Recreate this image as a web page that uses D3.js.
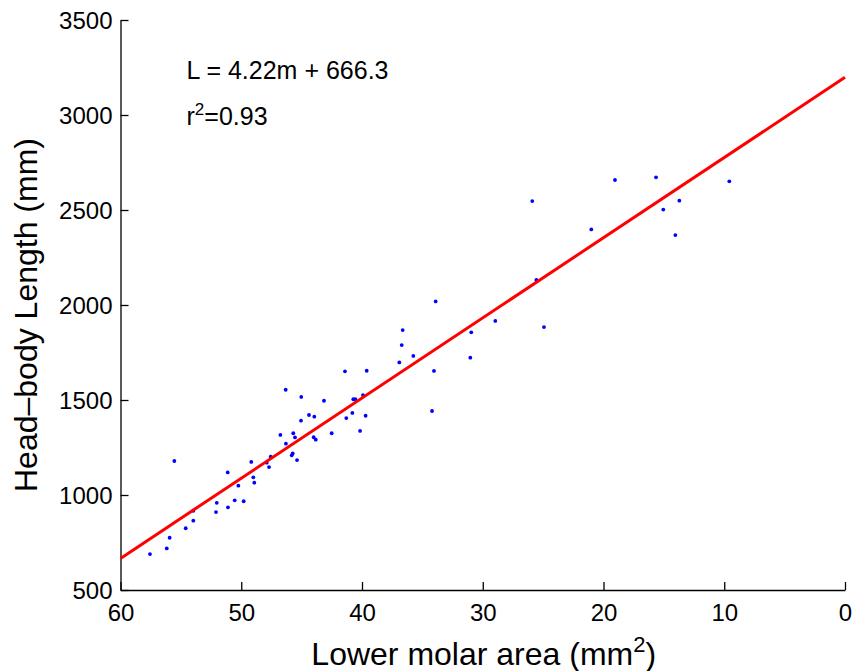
<!DOCTYPE html>
<html>
<head>
<meta charset="utf-8">
<script src="https://cdn.jsdelivr.net/npm/d3@7"></script>
<style>
  body { margin: 0; background: #fff; }
  text { font-family: "Liberation Sans", Arial, Helvetica, sans-serif; }
</style>
</head>
<body>
<div id="chart-area"></div>
<script>
// lower molar area (mm^2)
const molarArea = [
  57.56, 56.17, 55.93, 55.54, 54.6, 53.97, 53.97, 52.09, 52.03, 51.1,
  51.12, 50.54, 50.24, 49.8, 49.17, 49.0, 48.92, 47.89, 47.7, 47.56,
  46.76, 46.32, 46.3, 45.82, 45.74, 45.69, 45.55, 45.38, 45.03, 45.05,
  44.39, 43.95, 44.0, 43.83, 43.15, 42.51, 41.41, 41.3, 40.8, 40.72,
  40.55, 40.16, 39.92, 39.7, 39.61, 36.91, 36.71, 36.63, 35.75, 34.04,
  33.9, 34.2, 31.03, 30.95, 28.96, 25.9, 25.56, 24.93, 21.01, 19.05,
  15.65, 15.05, 13.72, 14.05, 9.58
];
// head-body length (mm)
const bodyLength = [
  689, 719, 775, 1179, 825, 865, 917, 910, 959, 935,
  1119, 972, 1049, 967, 1174, 1093, 1065, 1170, 1147, 1202,
  1316, 1554, 1270, 1209, 1219, 1325, 1303, 1184, 1516, 1391,
  1421, 1412, 1304, 1291, 1496, 1325, 1651, 1405, 1432, 1504,
  1504, 1337, 1526, 1417, 1654, 1698, 1789, 1868, 1732, 1653,
  2019, 1442, 1723, 1856, 1916, 2547, 2132, 1884, 2398, 2658,
  2672, 2502, 2549, 2368, 2651
];
// regression line end points [area, length]
const fitLine = [[60, 666.3], [0, 3198.3]];

const xTicks = [60, 50, 40, 30, 20, 10, 0];
const yTicks = [500, 1000, 1500, 2000, 2500, 3000, 3500];

const svgWidth = 856;
const svgHeight = 671;
const margin = { top: 20, right: 11, bottom: 81, left: 120.5 };
const width = svgWidth - margin.left - margin.right;
const height = svgHeight - margin.top - margin.bottom;

const svg = d3.select("#chart-area")
    .append("svg")
    .attr("width", svgWidth)
    .attr("height", svgHeight)
    .append("g")
    .attr("transform", `translate(${margin.left}, ${margin.top})`);

const xScale = d3.scaleLinear().domain([60, 0]).range([0, width]);
const yScale = d3.scaleLinear().domain([500, 3500]).range([height, 0]);

// axes, ticks pointing inward (matlab style)
const xAxis = svg.append("g")
    .attr("transform", `translate(0, ${height})`)
    .call(d3.axisBottom(xScale).tickValues(xTicks).tickSize(-8).tickSizeOuter(0).tickFormat(d3.format("d")));
const yAxis = svg.append("g")
    .call(d3.axisLeft(yScale).tickValues(yTicks).tickSize(-8).tickSizeOuter(0).tickPadding(8).tickFormat(d3.format("d")));

[xAxis, yAxis].forEach(ax => {
    ax.select(".domain").attr("stroke", "#000").attr("stroke-width", 1.3);
    ax.selectAll(".tick line").attr("stroke", "#000").attr("stroke-width", 1.3);
    ax.selectAll("text")
        .attr("fill", "#000")
        .style("font-size", "24px")
        .style("font-family", "'Liberation Sans', Arial, sans-serif");
});
xAxis.selectAll("text").attr("y", 31).attr("dy", 0);
yAxis.selectAll("text").attr("dy", "0.36em");

// points
svg.selectAll(".pt")
    .data(molarArea)
    .enter()
    .append("circle")
    .attr("class", "pt")
    .attr("cx", d => xScale(d))
    .attr("cy", (d, i) => yScale(bodyLength[i]))
    .attr("r", 1.9)
    .attr("fill", "#0000ff");

// regression line
svg.append("path")
    .datum(fitLine)
    .attr("fill", "none")
    .attr("stroke", "#ff0000")
    .attr("stroke-width", 3)
    .attr("d", d3.line().x(d => xScale(d[0])).y(d => yScale(d[1])));

// annotation
svg.append("text")
    .attr("x", 66)
    .attr("y", 59)
    .style("font-size", "25px")
    .text("L = 4.22m + 666.3");

const r2 = svg.append("text")
    .attr("x", 66)
    .attr("y", 105)
    .style("font-size", "25px");
r2.append("tspan").text("r");
r2.append("tspan").attr("dy", -10).style("font-size", "17px").text("2");
r2.append("tspan").attr("dy", 10).text("=0.93");

// axis titles
const xt = svg.append("text")
    .attr("x", width / 2 + 1)
    .attr("y", height + 75)
    .attr("text-anchor", "middle")
    .style("font-size", "32px")
    .text("Lower molar area (mm");
xt.append("tspan").attr("dy", -13).style("font-size", "22px").text("2");
xt.append("tspan").attr("dy", 13).text(")");

svg.append("text")
    .attr("transform", `translate(${-margin.left + 37}, ${height / 2 + 10}) rotate(-90)`)
    .attr("text-anchor", "middle")
    .style("font-size", "32px")
    .text("Head\u2013body Length (mm)");
</script>
</body>
</html>
